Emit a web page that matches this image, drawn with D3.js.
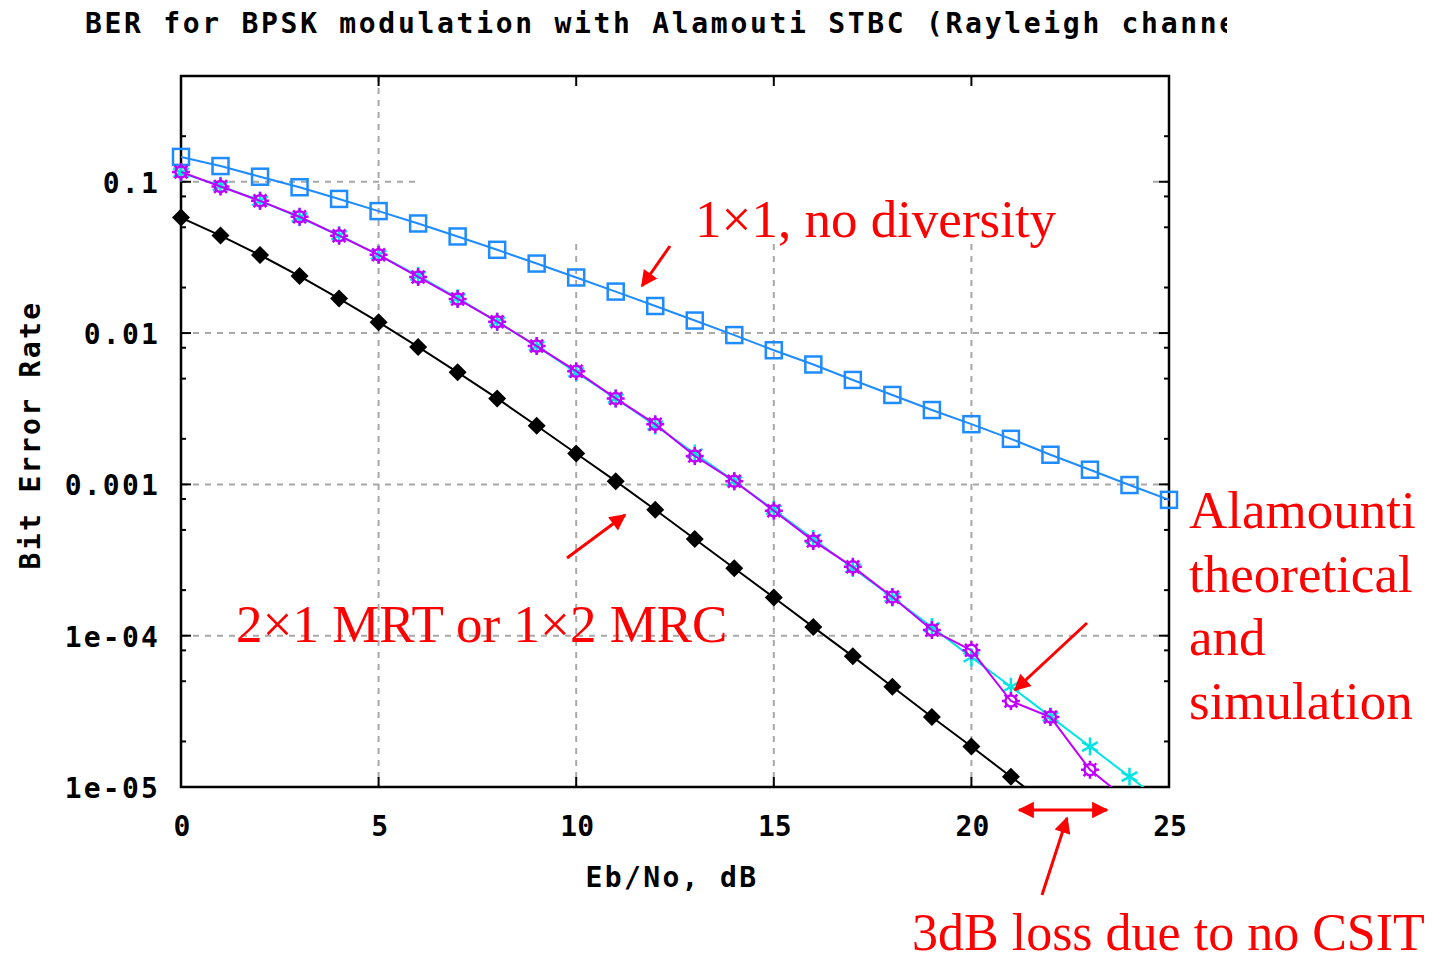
<!DOCTYPE html>
<html>
<head>
<meta charset="utf-8">
<script src="https://cdn.jsdelivr.net/npm/d3@7"></script>
<style>
  html, body { margin: 0; padding: 0; background: #fff; }
  svg { display: block; }
  .mono { font-family: "DejaVu Sans Mono", monospace; font-weight: bold; }
  .note { font-family: "Liberation Serif", "Times New Roman", serif; fill: #ff0000; }
</style>
</head>
<body>
<div id="chart"></div>
<script>
const W = 1447, H = 962

// Eb/No in dB
const ebno = d3.range(0, 26)
// 1x1, no diversity (blue squares)
const ber1x1 = [0.146, 0.127, 0.108, 0.092, 0.077, 0.064, 0.053, 0.0435, 0.0355, 0.0288,
  0.0233, 0.0188, 0.0151, 0.0121, 0.0097, 0.0077, 0.0062, 0.0049, 0.0039, 0.0031,
  0.0025, 0.0020, 0.00157, 0.00125, 0.00099, 0.00079]
// 1x2 MRC / 2x1 MRT (black diamonds)
const berMrc = [0.058, 0.0441, 0.0328, 0.0238, 0.0169, 0.0118, 0.0081, 0.0055, 0.0037, 0.00244,
  0.0016, 0.00105, 0.00068, 0.000436, 0.000279, 0.000179, 0.000114, 7.3e-5, 4.6e-5, 2.9e-5,
  1.85e-5, 1.17e-5, 7.4e-6]
// Alamouti theory (cyan asterisks)
const berAlaTheory = [0.115, 0.094, 0.0748, 0.0582, 0.0443, 0.0329, 0.0239, 0.0170, 0.0119, 0.0082,
  0.0055, 0.0037, 0.00245, 0.0016, 0.00105, 0.00068, 0.000436, 0.00028, 0.000179, 0.000114,
  7.2e-5, 4.6e-5, 2.92e-5, 1.85e-5, 1.17e-5, 7.4e-6]
// Alamouti simulation (magenta)
const berAlaSim = [0.116, 0.093, 0.0748, 0.0587, 0.044, 0.0329, 0.0235, 0.0168, 0.0119, 0.0082,
  0.0056, 0.0037, 0.0025, 0.00154, 0.00105, 0.00067, 0.000423, 0.000285, 0.00018, 0.000109,
  8.0e-5, 3.7e-5, 2.9e-5, 1.3e-5, 8e-6]

const xTicks = [0, 5, 10, 15, 20, 25]
const yTicks = [0.1, 0.01, 0.001, 1e-4, 1e-5]
const yTickLabels = ['0.1', '0.01', '0.001', '1e-04', '1e-05']
const yMinor = [0.2, 0.08, 0.05, 0.02, 0.008, 0.005, 0.002, 0.0008, 0.0005, 0.0002,
  8e-5, 5e-5, 2e-5]

const L = 181, R = 1169, T = 76, B = 787
const x = d3.scaleLinear().domain([0, 25]).range([L, R])
const y = d3.scaleLog().domain([1e-5, 0.5]).range([B, T])

const svg = d3.select('#chart').append('svg')
  .attr('width', W).attr('height', H)
  .attr('viewBox', `0 0 ${W} ${H}`)

const defs = svg.append('defs')
defs.append('clipPath').attr('id', 'plotclip')
  .append('rect').attr('x', L).attr('y', T).attr('width', R - L).attr('height', B - T)
defs.append('clipPath').attr('id', 'titleclip')
  .append('rect').attr('x', 0).attr('y', 0).attr('width', 1227).attr('height', 60)
defs.append('marker').attr('id', 'ah')
  .attr('viewBox', '0 0 10 10').attr('refX', 9).attr('refY', 5)
  .attr('markerWidth', 6.5).attr('markerHeight', 5.5).attr('orient', 'auto-start-reverse')
  .attr('markerUnits', 'strokeWidth')
  .append('path').attr('d', 'M0,0 L10,5 L0,10 Z').attr('fill', '#ff0000')

// title (cut off at the right like the original)
svg.append('text').attr('class', 'mono')
  .attr('clip-path', 'url(#titleclip)')
  .attr('x', 85).attr('y', 33)
  .attr('font-size', 28).attr('letter-spacing', 2.7)
  .text('BER for BPSK modulation with Alamouti STBC (Rayleigh channel)')

// grid
const grid = svg.append('g')
  .attr('stroke', '#a8a8a8').attr('stroke-width', 2).attr('stroke-dasharray', '6,6')
grid.selectAll('line.gx').data(xTicks.slice(1, -1)).enter().append('line')
  .attr('x1', d => x(d)).attr('x2', d => x(d)).attr('y1', T).attr('y2', B)
grid.selectAll('line.gy').data(yTicks.slice(0, -1)).enter().append('line')
  .attr('x1', L).attr('x2', R).attr('y1', d => y(d)).attr('y2', d => y(d))

// erased key area
svg.append('rect').attr('x', 420).attr('y', T + 2).attr('width', 728).attr('height', 166)
  .attr('fill', '#fff')

// axes frame and ticks
const frame = svg.append('g').attr('stroke', '#000')
frame.append('rect').attr('x', L).attr('y', T).attr('width', R - L).attr('height', B - T)
  .attr('fill', 'none').attr('stroke-width', 2.5)
yTicks.forEach(v => {
  frame.append('line').attr('x1', L).attr('x2', L + 10).attr('y1', y(v)).attr('y2', y(v)).attr('stroke-width', 2)
  frame.append('line').attr('x1', R).attr('x2', R - 10).attr('y1', y(v)).attr('y2', y(v)).attr('stroke-width', 2)
})
yMinor.forEach(v => {
  frame.append('line').attr('x1', L).attr('x2', L + 5).attr('y1', y(v)).attr('y2', y(v)).attr('stroke-width', 2)
  frame.append('line').attr('x1', R).attr('x2', R - 5).attr('y1', y(v)).attr('y2', y(v)).attr('stroke-width', 2)
})
xTicks.forEach(v => {
  frame.append('line').attr('x1', x(v)).attr('x2', x(v)).attr('y1', B).attr('y2', B - 10).attr('stroke-width', 2)
  frame.append('line').attr('x1', x(v)).attr('x2', x(v)).attr('y1', T).attr('y2', T + 10).attr('stroke-width', 2)
})

// tick labels
svg.selectAll('text.yl').data(yTicks).enter().append('text')
  .attr('class', 'mono').attr('font-size', 28).attr('letter-spacing', 2.2)
  .attr('text-anchor', 'end').attr('x', 160).attr('y', d => y(d) + 11)
  .text((d, i) => yTickLabels[i])
svg.selectAll('text.xl').data(xTicks).enter().append('text')
  .attr('class', 'mono').attr('font-size', 28)
  .attr('text-anchor', 'middle').attr('x', d => x(d) + 1).attr('y', 836)
  .text(d => d)

svg.append('text').attr('class', 'mono').attr('font-size', 28).attr('letter-spacing', 2.35)
  .attr('text-anchor', 'middle').attr('x', 672).attr('y', 887).text('Eb/No, dB')
svg.append('text').attr('class', 'mono').attr('font-size', 28).attr('letter-spacing', 2.35)
  .attr('text-anchor', 'middle')
  .attr('transform', 'translate(40,435) rotate(-90)').text('Bit Error Rate')

// series
const plot = svg.append('g')
const line = d3.line().x(d => x(d[0])).y(d => y(d[1]))
const pairs = vals => vals.map((v, i) => [ebno[i], v])
const visible = vals => pairs(vals).filter(d => d[1] >= 1e-5)

const series = [
  {vals: ber1x1, color: '#1e8cff', kind: 'square'},
  {vals: berMrc, color: '#000000', kind: 'diamond'},
  {vals: berAlaTheory, color: '#00e4e4', kind: 'star'},
  {vals: berAlaSim, color: '#c000ff', kind: 'gear'}
]

series.forEach(s => {
  plot.append('path').datum(pairs(s.vals))
    .attr('clip-path', 'url(#plotclip)')
    .attr('fill', 'none').attr('stroke', s.color).attr('stroke-width', 2)
    .attr('d', line)
  const g = plot.append('g')
  const pts = g.selectAll('g').data(visible(s.vals)).enter().append('g')
    .attr('transform', d => `translate(${x(d[0])},${y(d[1])})`)
  if (s.kind === 'square') {
    pts.append('rect').attr('x', -8).attr('y', -8).attr('width', 16).attr('height', 16)
      .attr('fill', 'none').attr('stroke', s.color).attr('stroke-width', 2.5)
  } else if (s.kind === 'diamond') {
    pts.append('path').attr('d', 'M0,-9 L9,0 L0,9 L-9,0 Z').attr('fill', s.color)
  } else if (s.kind === 'star') {
    pts.append('path').attr('d', 'M0,-9 L0,9 M-7.8,-4.5 L7.8,4.5 M-7.8,4.5 L7.8,-4.5')
      .attr('stroke', s.color).attr('stroke-width', 2.5)
  } else {
    pts.append('circle').attr('r', 5.5).attr('fill', 'none')
      .attr('stroke', s.color).attr('stroke-width', 2.5)
    pts.append('path')
      .attr('d', d3.range(8).map(k => {
        const a = k * Math.PI / 4
        return `M${5.5 * Math.cos(a)},${5.5 * Math.sin(a)} L${9 * Math.cos(a)},${9 * Math.sin(a)}`
      }).join(' '))
      .attr('stroke', s.color).attr('stroke-width', 2.5)
  }
})

// annotations
const notes = svg.append('g')
const arrow = (x1, y1, x2, y2, both) => {
  const p = notes.append('line').attr('x1', x1).attr('y1', y1).attr('x2', x2).attr('y2', y2)
    .attr('stroke', '#ff0000').attr('stroke-width', 3).attr('marker-end', 'url(#ah)')
  if (both) p.attr('marker-start', 'url(#ah)')
}
notes.append('text').attr('class', 'note').attr('font-size', 53)
  .attr('x', 695).attr('y', 237).text('1×1, no diversity')
arrow(670, 246, 642, 286)
notes.append('text').attr('class', 'note').attr('font-size', 53)
  .attr('x', 236).attr('y', 642).text('2×1 MRT or 1×2 MRC')
arrow(567, 558, 625, 515)
const ala = ['Alamounti', 'theoretical', 'and', 'simulation']
notes.selectAll('text.ala').data(ala).enter().append('text')
  .attr('class', 'note').attr('font-size', 53)
  .attr('x', 1189).attr('y', (d, i) => 528 + i * 63.5).text(d => d)
arrow(1087, 623, 1015, 690)
arrow(1019, 810, 1107, 810, true)
arrow(1042, 895, 1067, 818)
notes.append('text').attr('class', 'note').attr('font-size', 52)
  .attr('x', 912).attr('y', 950).text('3dB loss due to no CSIT')
</script>
</body>
</html>
